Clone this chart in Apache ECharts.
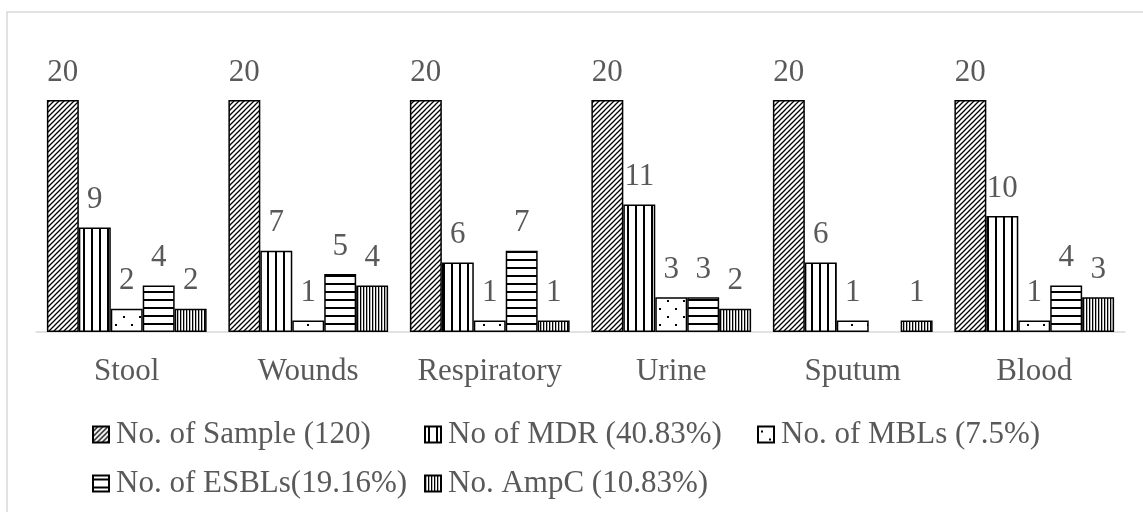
<!DOCTYPE html>
<html>
<head>
<meta charset="utf-8">
<script src="https://cdn.jsdelivr.net/npm/echarts@6/dist/echarts.min.js"></script>
<style>
html,body{margin:0;padding:0;background:#fff;}
#chart{width:1143px;height:512px;}
</style>
</head>
<body>
<div id="chart"></div>
<script>
var categories = ['Stool', 'Wounds', 'Respiratory', 'Urine', 'Sputum', 'Blood'];
var seriesNames = ['No. of Sample (120)', 'No of MDR (40.83%)', 'No. of MBLs (7.5%)', 'No. of ESBLs(19.16%)', 'No. AmpC (10.83%)'];
var sampleValues = [20, 20, 20, 20, 20, 20];
var mdrValues = [9, 7, 6, 11, 6, 10];
var mblValues = [2, 1, 1, 3, 1, 1];
var esblValues = [4, 5, 7, 3, 0, 4];
var ampcValues = [2, 4, 1, 2, 1, 3];

function makeTile(w, h, draw) {
  var c = document.createElement('canvas');
  c.width = w; c.height = h;
  var ctx = c.getContext('2d');
  ctx.fillStyle = '#fff';
  ctx.fillRect(0, 0, w, h);
  ctx.fillStyle = '#000';
  ctx.strokeStyle = '#000';
  draw(ctx, w, h);
  return c;
}
var patDiag = makeTile(5, 5, function (ctx, w, h) {
  ctx.lineWidth = 1.3;
  ctx.beginPath();
  ctx.moveTo(-1, h + 1); ctx.lineTo(w + 1, -1);
  ctx.moveTo(-1, 1); ctx.lineTo(1, -1);
  ctx.moveTo(w - 1, h + 1); ctx.lineTo(w + 1, h - 1);
  ctx.stroke();
});
var patVert = makeTile(8, 8, function (ctx) { ctx.fillRect(3, 0, 2, 8); });
var patDots = makeTile(16, 16, function (ctx) { ctx.fillRect(3, 4, 2, 2); ctx.fillRect(11, 12, 2, 2); });
var patHoriz = makeTile(8, 8, function (ctx) { ctx.fillRect(0, 3, 8, 2); });
var patDense = makeTile(3, 3, function (ctx) { ctx.fillRect(0, 0, 1.3, 3); });
var patterns = [patDiag, patVert, patDots, patHoriz, patDense];
var valueSets = [sampleValues, mdrValues, mblValues, esblValues, ampcValues];

var fontFam = "'Liberation Serif', 'Times New Roman', serif";
var textColor = '#595959';
var fs = 31;

var series = seriesNames.map(function (name, i) {
  return {
    name: name,
    type: 'bar',
    data: valueSets[i].map(function (v) {
      return v === 0 ? { value: v, itemStyle: { borderWidth: 0, color: 'rgba(0,0,0,0)' } } : v;
    }),
    barGap: '0%',
    barCategoryGap: '12%',
    itemStyle: {
      color: { image: patterns[i], repeat: 'repeat' },
      borderColor: '#000',
      borderWidth: 1.5
    },
    label: {
      show: true,
      position: 'top',
      distance: 12,
      color: textColor,
      fontSize: fs,
      fontFamily: fontFam,
      formatter: function (p) { return p.value === 0 ? '' : String(p.value); }
    }
  };
});

function legendCol(names, left) {
  return {
    orient: 'vertical',
    left: left,
    top: 419,
    padding: 0,
    itemGap: 18,
    itemWidth: 16,
    itemHeight: 16,
    icon: 'rect',
    data: names,
    itemStyle: { borderWidth: 2, borderColor: '#000' },
    textStyle: { color: textColor, fontSize: fs, fontFamily: fontFam, padding: [0, 0, 0, 2] },
    selectedMode: false
  };
}

var chart = echarts.init(document.getElementById('chart'));
chart.setOption({
  animation: false,
  backgroundColor: '#fff',
  graphic: [{
    type: 'rect',
    shape: { x: 7, y: 12, width: 1300, height: 700 },
    style: { fill: 'none', stroke: '#d9d9d9', lineWidth: 1.5 },
    silent: true
  }],
  grid: { left: 36, right: 18, top: 100, bottom: 180, containLabel: false },
  legend: [
    legendCol([seriesNames[0], seriesNames[3]], 92),
    legendCol([seriesNames[1], seriesNames[4]], 424),
    legendCol([seriesNames[2]], 757)
  ],
  xAxis: {
    type: 'category',
    data: categories,
    axisLine: { lineStyle: { color: '#d9d9d9', width: 1.5 } },
    axisTick: { show: false },
    axisLabel: { interval: 0, color: textColor, fontSize: fs, fontFamily: fontFam, margin: 24 }
  },
  yAxis: {
    type: 'value',
    min: 0,
    max: 20,
    show: false,
    splitLine: { show: false }
  },
  series: series
});
</script>
</body>
</html>
